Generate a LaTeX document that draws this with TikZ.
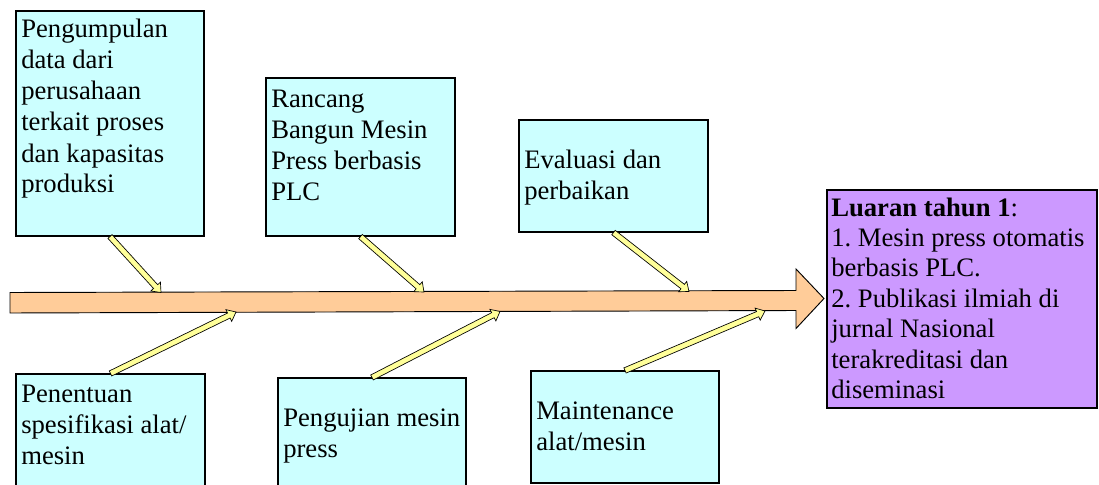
\documentclass[tikz,border=0pt]{standalone}
\usepackage{fontspec}
\setmainfont{Liberation Serif}
\usetikzlibrary{calc,fit}
\frenchspacing
\definecolor{boxcyan}{HTML}{CCFFFF}
\definecolor{boxpurple}{HTML}{CC99FF}
\definecolor{spinefill}{HTML}{FFCC99}
\definecolor{arrowfill}{HTML}{FFFF99}
\newcommand{\boxlines}[1]{\parbox[t]{9cm}{\raggedright\frenchspacing #1}}
\newcommand{\fatarrow}[2]{%
  \coordinate (fa-c) at ($(#2)!6pt!(#1)$);
  \draw[smallarrow] ($(#1)!2.1pt!90:(#2)$) -- ($(fa-c)!2.1pt!90:(#2)$)
    -- ($(fa-c)!4.9pt!90:(#2)$) -- (#2) -- ($(fa-c)!4.9pt!-90:(#2)$)
    -- ($(fa-c)!2.1pt!-90:(#2)$) -- ($(#1)!2.1pt!-90:(#2)$) -- cycle;}
\tikzset{
  cyanbox/.style={draw=black, line width=0.8pt, fill=boxcyan, inner sep=0pt, rectangle},
  purplebox/.style={draw=black, line width=0.8pt, fill=boxpurple, inner sep=0pt, rectangle},
  spine/.style={draw=black, line width=0.7pt, fill=spinefill},
  smallarrow/.style={draw=black, line width=0.5pt, fill=arrowfill, line join=miter},
  txt/.style={anchor=base west, inner sep=0pt, font=\fontsize{20}{23.25}\selectfont},
  txtp/.style={anchor=base west, inner sep=0pt, font=\fontsize{20}{22.8}\selectfont}
}
\begin{document}
\begin{tikzpicture}[x=0.75pt, y=-0.75pt]
\clip (0,0) rectangle (1099,485);
\fill[white] (0,0) rectangle (1099,485);
% boxes
\node[cyanbox, fit={(16,11) (204,236)}] (b1) {};
\node[cyanbox, fit={(266,78) (455,236)}] (b2) {};
\node[cyanbox, fit={(519,120) (708,232)}] (b3) {};
\node[cyanbox, fit={(16,374) (205,500)}] (b4) {};
\node[cyanbox, fit={(278,378) (466,500)}] (b5) {};
\node[cyanbox, fit={(531,371) (719,483)}] (b6) {};
\node[purplebox, fit={(827,190) (1097,408)}] (b7) {};
% spine
\draw[spine] (10,292.5) -- (796,290.5) -- (796,269) -- (824,298.5) -- (796,328.5)
  -- (796,310.5) -- (10,313) -- cycle;
\coordinate (s1) at (161,292.5);
\coordinate (s2) at (424,292);
\coordinate (s3) at (689,291.5);
\coordinate (s4) at (236,312);
\coordinate (s5) at (500,311.5);
\coordinate (s6) at (765,311);
% arrows
\fatarrow{b1.south}{s1}
\fatarrow{b2.south}{s2}
\fatarrow{b3.south}{s3}
\fatarrow{b4.north}{s4}
\fatarrow{b5.north}{s5}
\fatarrow{b6.north}{s6}
% texts
\node[txt] (t1) at (21,38) {\boxlines{Pengumpulan\\data dari\\perusahaan\\terkait proses\\dan kapasitas\\produksi}};
\node[txt] (t2) at (271,107.5) {\boxlines{Rancang\\Bangun Mesin\\Press berbasis\\PLC}};
\node[txt] (t3) at (524,168) {\boxlines{Evaluasi dan\\perbaikan}};
\node[txt] (t4) at (21,402) {\boxlines{Penentuan\\spesifikasi alat/\\mesin}};
\node[txt] (t5) at (283,426) {\boxlines{Pengujian mesin\\press}};
\node[txt] (t6) at (536,419) {\boxlines{Maintenance\\alat/mesin}};
\node[txtp] (t7) at (831,216) {\boxlines{\textbf{Luaran tahun 1}:\\1. Mesin press otomatis\\berbasis PLC.\\2. Publikasi ilmiah di\\jurnal Nasional\\terakreditasi dan\\diseminasi}};
\end{tikzpicture}
\end{document}
